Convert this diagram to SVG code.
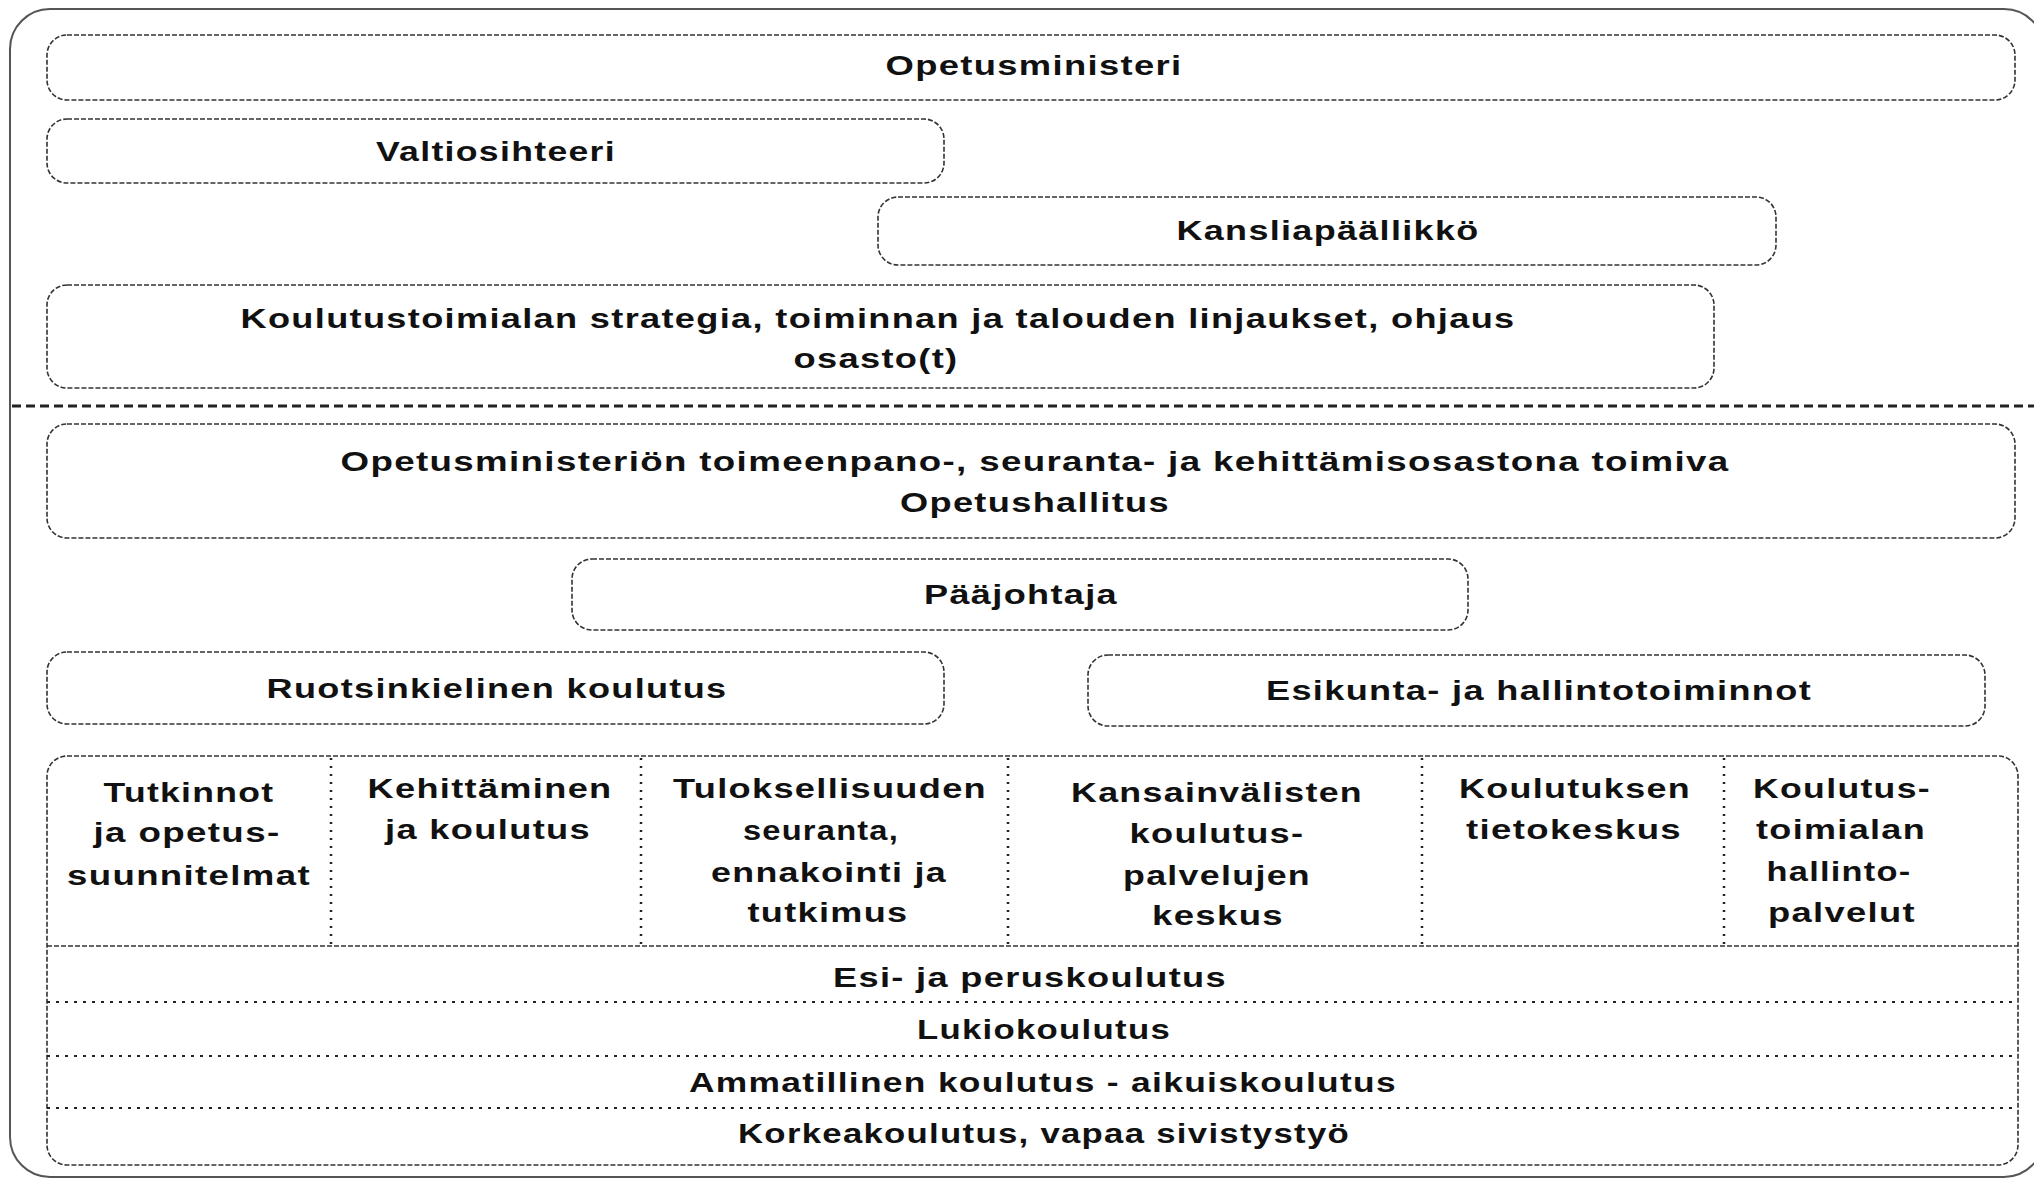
<svg xmlns="http://www.w3.org/2000/svg" width="2034" height="1181" viewBox="0 0 2034 1181">
<style>
.box{fill:none;stroke:#333;stroke-width:1.6;stroke-dasharray:5 2}
.t{font-family:"Liberation Sans",Arial,sans-serif;font-size:27px;font-weight:bold;fill:#111;text-anchor:middle;letter-spacing:1px}
.col{stroke:#222;stroke-width:2.5;stroke-dasharray:2 6;fill:none}
.row{stroke:#222;stroke-width:2;stroke-dasharray:3 6;fill:none}
</style>
<rect width="2034" height="1181" fill="#fff"/>
<rect x="10" y="9" width="2034" height="1168" rx="40" fill="none" stroke="#555" stroke-width="2"/>

<g id="opetusministeri">
<rect class="box" x="47" y="35" width="1968" height="65" rx="20"/>
<text class="t" x="1034" y="75" textLength="297" lengthAdjust="spacingAndGlyphs">Opetusministeri</text>
</g>
<g id="valtiosihteeri">
<rect class="box" x="47" y="119" width="897" height="64" rx="20"/>
<text class="t" x="496" y="161" textLength="240" lengthAdjust="spacingAndGlyphs">Valtiosihteeri</text>
</g>
<g id="kansliapaallikko">
<rect class="box" x="878" y="197" width="898" height="68" rx="20"/>
<text class="t" x="1328" y="240" textLength="303" lengthAdjust="spacingAndGlyphs">Kansliapäällikkö</text>
</g>
<g id="koulutustoimiala">
<rect class="box" x="47" y="285" width="1667" height="103" rx="20"/>
<text class="t" x="878" y="328" textLength="1275" lengthAdjust="spacingAndGlyphs">Koulutustoimialan strategia, toiminnan ja talouden linjaukset, ohjaus</text>
<text class="t" x="876" y="368" textLength="165" lengthAdjust="spacingAndGlyphs">osasto(t)</text>
</g>

<g id="connectors">
<line x1="12" y1="406" x2="2034" y2="406" stroke="#222" stroke-width="3" stroke-dasharray="9 5"/>
</g>

<g id="opetushallitus">
<rect class="box" x="47" y="424" width="1968" height="114" rx="20"/>
<text class="t" x="1035" y="471" textLength="1389" lengthAdjust="spacingAndGlyphs">Opetusministeriön toimeenpano-, seuranta- ja kehittämisosastona toimiva</text>
<text class="t" x="1035" y="512" textLength="270" lengthAdjust="spacingAndGlyphs">Opetushallitus</text>
</g>
<g id="paajohtaja">
<rect class="box" x="572" y="559" width="896" height="71" rx="20"/>
<text class="t" x="1021" y="604" textLength="194" lengthAdjust="spacingAndGlyphs">Pääjohtaja</text>
</g>
<g id="ruotsinkielinen">
<rect class="box" x="47" y="652" width="897" height="72" rx="20"/>
<text class="t" x="497" y="698" textLength="461" lengthAdjust="spacingAndGlyphs">Ruotsinkielinen koulutus</text>
</g>
<g id="esikunta">
<rect class="box" x="1088" y="655" width="897" height="71" rx="20"/>
<text class="t" x="1539" y="700" textLength="546" lengthAdjust="spacingAndGlyphs">Esikunta- ja hallintotoiminnot</text>
</g>

<g id="yksikot">
<rect class="box" x="47" y="756" width="1971" height="409" rx="20"/>
<line class="col" x1="331" y1="758" x2="331" y2="946"/>
<line class="col" x1="641" y1="758" x2="641" y2="946"/>
<line class="col" x1="1008" y1="758" x2="1008" y2="946"/>
<line class="col" x1="1422" y1="758" x2="1422" y2="946"/>
<line class="col" x1="1724" y1="758" x2="1724" y2="946"/>
<line x1="47" y1="946" x2="2018" y2="946" stroke="#333" stroke-width="1.6" stroke-dasharray="5 2"/>
<line class="row" x1="47" y1="1002" x2="2018" y2="1002"/>
<line class="row" x1="47" y1="1056" x2="2018" y2="1056"/>
<line class="row" x1="47" y1="1108" x2="2018" y2="1108"/>
</g>

<g id="tutkinnot">
<text class="t" x="189" y="802" textLength="171" lengthAdjust="spacingAndGlyphs">Tutkinnot</text>
<text class="t" x="187" y="842" textLength="187" lengthAdjust="spacingAndGlyphs">ja opetus-</text>
<text class="t" x="189" y="885" textLength="244" lengthAdjust="spacingAndGlyphs">suunnitelmat</text>
</g>
<g id="kehittaminen">
<text class="t" x="490" y="798" textLength="245" lengthAdjust="spacingAndGlyphs">Kehittäminen</text>
<text class="t" x="488" y="839" textLength="206" lengthAdjust="spacingAndGlyphs">ja koulutus</text>
</g>
<g id="tuloksellisuus">
<text class="t" x="830" y="798" textLength="314" lengthAdjust="spacingAndGlyphs">Tuloksellisuuden</text>
<text class="t" x="821" y="840" textLength="156" lengthAdjust="spacingAndGlyphs">seuranta,</text>
<text class="t" x="829" y="882" textLength="236" lengthAdjust="spacingAndGlyphs">ennakointi ja</text>
<text class="t" x="828" y="922" textLength="161" lengthAdjust="spacingAndGlyphs">tutkimus</text>
</g>
<g id="kansainvaliset">
<text class="t" x="1217" y="802" textLength="292" lengthAdjust="spacingAndGlyphs">Kansainvälisten</text>
<text class="t" x="1217" y="843" textLength="175" lengthAdjust="spacingAndGlyphs">koulutus-</text>
<text class="t" x="1217" y="885" textLength="188" lengthAdjust="spacingAndGlyphs">palvelujen</text>
<text class="t" x="1218" y="925" textLength="132" lengthAdjust="spacingAndGlyphs">keskus</text>
</g>
<g id="tietokeskus">
<text class="t" x="1575" y="798" textLength="232" lengthAdjust="spacingAndGlyphs">Koulutuksen</text>
<text class="t" x="1574" y="839" textLength="216" lengthAdjust="spacingAndGlyphs">tietokeskus</text>
</g>
<g id="hallintopalvelut">
<text class="t" x="1842" y="798" textLength="178" lengthAdjust="spacingAndGlyphs">Koulutus-</text>
<text class="t" x="1841" y="839" textLength="170" lengthAdjust="spacingAndGlyphs">toimialan</text>
<text class="t" x="1839" y="881" textLength="145" lengthAdjust="spacingAndGlyphs">hallinto-</text>
<text class="t" x="1842" y="922" textLength="148" lengthAdjust="spacingAndGlyphs">palvelut</text>
</g>
<g id="esi-ja-perus">
<text class="t" x="1030" y="987" textLength="394" lengthAdjust="spacingAndGlyphs">Esi- ja peruskoulutus</text>
</g>
<g id="lukio">
<text class="t" x="1044" y="1039" textLength="254" lengthAdjust="spacingAndGlyphs">Lukiokoulutus</text>
</g>
<g id="ammatillinen">
<text class="t" x="1043" y="1092" textLength="708" lengthAdjust="spacingAndGlyphs">Ammatillinen koulutus - aikuiskoulutus</text>
</g>
<g id="korkeakoulutus">
<text class="t" x="1044" y="1143" textLength="612" lengthAdjust="spacingAndGlyphs">Korkeakoulutus, vapaa sivistystyö</text>
</g>
</svg>
